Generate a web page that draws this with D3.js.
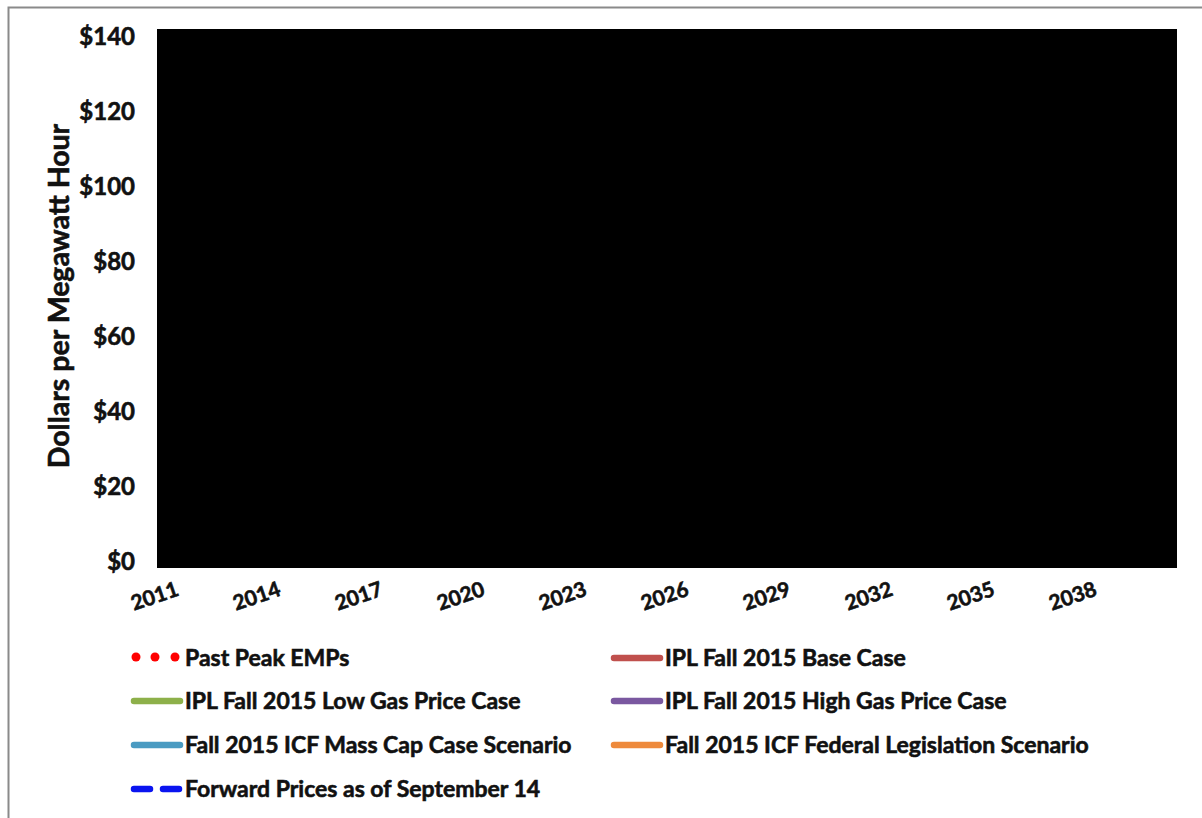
<!DOCTYPE html>
<html><head><meta charset="utf-8">
<script src="https://cdn.jsdelivr.net/npm/d3@7"></script>
<style>body{margin:0;background:#fff}svg{display:block}</style>
</head><body>
<svg id="c" width="1202" height="818"></svg>
<script>
// ---- data ----
const years = d3.range(2011, 2041).map(String);
const xTickLabels = ["2011","2014","2017","2020","2023","2026","2029","2032","2035","2038"];
const yTicks = [0,20,40,60,80,100,120,140];
const yTitle = "Dollars per Megawatt Hour";
const seriesNames = [
  "Past Peak EMPs",
  "IPL Fall 2015 Base Case",
  "IPL Fall 2015 Low Gas Price Case",
  "IPL Fall 2015 High Gas Price Case",
  "Fall 2015 ICF Mass Cap Case Scenario",
  "Fall 2015 ICF Federal Legislation Scenario",
  "Forward Prices as of September 14"
];
const seriesColors = ["#ff0000","#c0504d","#8db04a","#7a58a0","#4a9bc2","#ee8a3c","#0a14f0"];
const seriesStyles = ["dots","solid","solid","solid","solid","solid","dash"];

// ---- chart ----
const svg = d3.select("#c");
const font = "Lato, 'Open Sans', sans-serif";
const ink = "#111";

// outer frame
svg.append("rect").attr("x",8.5).attr("y",7.5).attr("width",1230).attr("height",830)
  .attr("fill","none").attr("stroke","#8a8a8a").attr("stroke-width",2);

const plot = {l:157, r:1177, t:29, b:568};
const x = d3.scaleBand().domain(years).range([plot.l, plot.r]);
const y = d3.scaleLinear().domain([0,140]).range([561, 36]);

// plot area (redacted / black)
svg.append("rect").attr("x",plot.l).attr("y",plot.t)
  .attr("width",plot.r-plot.l).attr("height",plot.b-plot.t).attr("fill","#000");

function heavy(sel){ return sel.attr("font-family",font).attr("font-weight","bold")
  .attr("fill",ink).attr("stroke",ink).attr("stroke-width",0.6); }

// y axis
const yAxis = d3.axisLeft(y).tickValues(yTicks).tickFormat(d=>"$"+d).tickSize(0).tickPadding(0);
const gy = svg.append("g").attr("transform","translate(135,0)").call(yAxis);
gy.select(".domain").remove();
heavy(gy.selectAll("text")).attr("font-size",24).attr("dy","0.35em");

// x axis
const xAxis = d3.axisBottom(x).tickValues(xTickLabels).tickSize(0).tickPadding(0);
const gx = svg.append("g").attr("transform",`translate(0,${plot.b})`).call(xAxis);
gx.select(".domain").remove();
heavy(gx.selectAll("text")).attr("font-size",21)
  .attr("text-anchor","end").attr("dy",0).attr("y",0)
  .attr("transform","translate(6,27) rotate(-19)");

// y title
heavy(svg.append("text").attr("transform","translate(69,296) rotate(-90)")
  .attr("text-anchor","middle")).attr("font-size",28.5).text(yTitle);

// legend
const legX = [130, 610], legY = [658, 701, 745, 789];
const lg = svg.append("g");
seriesNames.forEach((name,i)=>{
  const col = i%2, row = Math.floor(i/2);
  const x0 = legX[col], yc = legY[row];
  const g = lg.append("g");
  if (seriesStyles[i]==="dots") {
    [6,25,45].forEach(dx=>g.append("circle").attr("cx",x0+dx).attr("cy",yc-1).attr("r",4.5).attr("fill",seriesColors[i]));
  } else {
    g.append("line").attr("x1",x0+4).attr("x2",x0+50).attr("y1",yc).attr("y2",yc)
      .attr("stroke",seriesColors[i]).attr("stroke-width",6.5).attr("stroke-linecap","round")
      .attr("stroke-dasharray",seriesStyles[i]==="dash"?"16,13":null);
  }
  heavy(g.append("text").attr("x",x0+55).attr("y",yc).attr("dy","0.35em"))
    .attr("font-size",23).text(name);
});
</script>
</body></html>
